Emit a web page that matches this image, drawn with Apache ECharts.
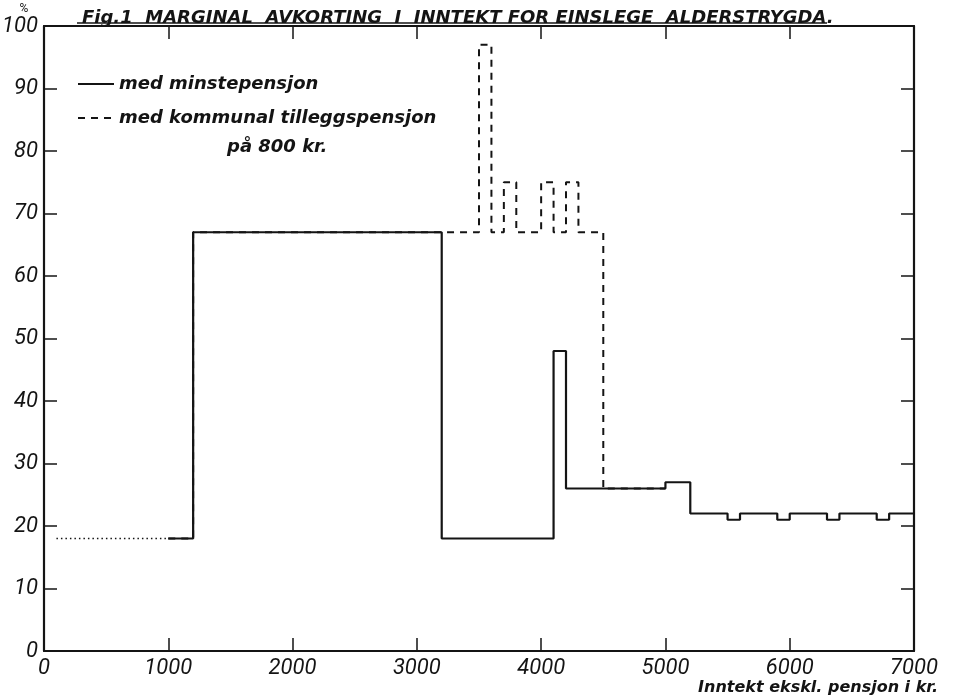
<!DOCTYPE html>
<html><head><meta charset="utf-8">
<script src="https://cdn.jsdelivr.net/npm/echarts@6/dist/echarts.min.js"></script>
<style>html,body{margin:0;background:#fff}#c{width:953px;height:700px}</style>
</head><body><div id="c"></div>
<script>
// ---- data ----
const titleText = 'Fig.1  MARGINAL  AVKORTING  I  INNTEKT FOR EINSLEGE  ALDERSTRYGDA.';
const xAxisName = 'Inntekt ekskl. pensjon i kr.';
const yUnit = '%';
const seriesNames = ['med minstepensjon', 'med kommunal tilleggspensjon'];
const legendNote = 'på 800 kr.';
const xMin = 0, xMax = 7000, xStep = 1000;
const yMin = 0, yMax = 100, yStep = 10;

// dotted lead-in (shared by both cases)
const dottedX = [100, 1000];
const dottedY = [18, 18];
// solid: med minstepensjon (value holds from x[i] to x[i+1])
const solidX = [1000, 1200, 3200, 4100, 4200, 5000, 5200, 5500, 5600, 5900, 6000, 6300, 6400, 6700, 6800, 7000];
const solidY = [18,   67,   18,   48,   26,   27,   22,   21,   22,   21,   22,   21,   22,   21,   22,   22];
// dashed: med kommunal tilleggspensjon på 800 kr.
const dashX = [1000, 1200, 3500, 3600, 3700, 3800, 4000, 4100, 4200, 4300, 4500, 5000];
const dashY = [18,   67,   97,   67,   75,   67,   75,   67,   75,   67,   26,   26];

// ---- chart ----
const ink = '#141414';
const fontLab = "Roboto, 'DejaVu Sans', sans-serif";
const fontTxt = "'DejaVu Sans', sans-serif";
const pairs = (xs, ys) => xs.map((x, i) => [x, ys[i]]);

const chart = echarts.init(document.getElementById('c'), null, {renderer: 'canvas'});
const axisCommon = {
  type: 'value',
  axisLine: {show: true, onZero: false, lineStyle: {color: ink, width: 2.2}},
  axisTick: {show: true, inside: true, length: 13, lineStyle: {color: ink, width: 1.5}},
  splitLine: {show: false}
};
chart.setOption({
  animation: false,
  backgroundColor: '#fff',
  title: {
    text: titleText, left: 77, top: 4,
    textStyle: {fontFamily: fontTxt, fontStyle: 'italic', fontWeight: 'bold', fontSize: 18, color: ink}
  },
  grid: {left: 44, right: 39, top: 26, bottom: 49, containLabel: false, outerBoundsMode: 'none'},
  legend: {
    data: seriesNames, orient: 'vertical', left: 72, top: 70,
    itemWidth: 36, itemHeight: 14, itemGap: 16,
    itemStyle: {color: 'transparent', borderWidth: 0, opacity: 0},
    textStyle: {fontFamily: fontTxt, fontStyle: 'italic', fontWeight: 'bold', fontSize: 18, color: ink}
  },
  xAxis: [
    Object.assign({}, axisCommon, {
      position: 'bottom', min: xMin, max: xMax, interval: xStep,
      axisLabel: {show: true, margin: 6, fontFamily: fontLab, fontStyle: 'italic', fontSize: 22, color: ink,
        formatter: v => String(v)}
    }),
    Object.assign({}, axisCommon, {
      position: 'top', min: xMin, max: xMax, interval: xStep, axisLabel: {show: false}
    })
  ],
  yAxis: [
    Object.assign({}, axisCommon, {
      position: 'left', min: yMin, max: yMax, interval: yStep,
      axisLabel: {show: true, margin: 6, fontFamily: fontLab, fontStyle: 'italic', fontSize: 22, color: ink},
      name: yUnit, nameLocation: 'end', nameGap: 10,
      nameTextStyle: {fontFamily: fontLab, fontSize: 12, color: ink, align: 'center', padding: [0, 40, 0, 0]}
    }),
    Object.assign({}, axisCommon, {
      position: 'right', min: yMin, max: yMax, interval: yStep, axisLabel: {show: false}
    })
  ],
  graphic: [
    {type: 'text', left: 227, top: 138,
     style: {text: legendNote, fill: ink, font: "italic bold 18px 'DejaVu Sans', sans-serif"}},
    {type: 'text', right: 15, top: 680,
     style: {text: xAxisName, fill: ink, font: "italic bold 16px 'DejaVu Sans', sans-serif"}},
    {type: 'line', shape: {x1: 77, y1: 23, x2: 827, y2: 23}, style: {stroke: ink, lineWidth: 1.6}}
  ],
  series: [
    {name: 'dotted', type: 'line', step: 'end', data: pairs(dottedX, dottedY), showSymbol: false, symbol: 'none',
     lineStyle: {color: ink, width: 1.6, type: [1.5, 3]}, silent: true, z: 2},
    {name: seriesNames[1], type: 'line', step: 'end', data: pairs(dashX, dashY), showSymbol: false, symbol: 'none',
     lineStyle: {color: ink, width: 2, type: [7, 6]}, itemStyle: {color: ink}, z: 3},
    {name: seriesNames[0], type: 'line', step: 'end', data: pairs(solidX, solidY), showSymbol: false, symbol: 'none',
     lineStyle: {color: ink, width: 2.2, type: 'solid'}, itemStyle: {color: ink}, z: 4}
  ]
});
</script></body></html>
